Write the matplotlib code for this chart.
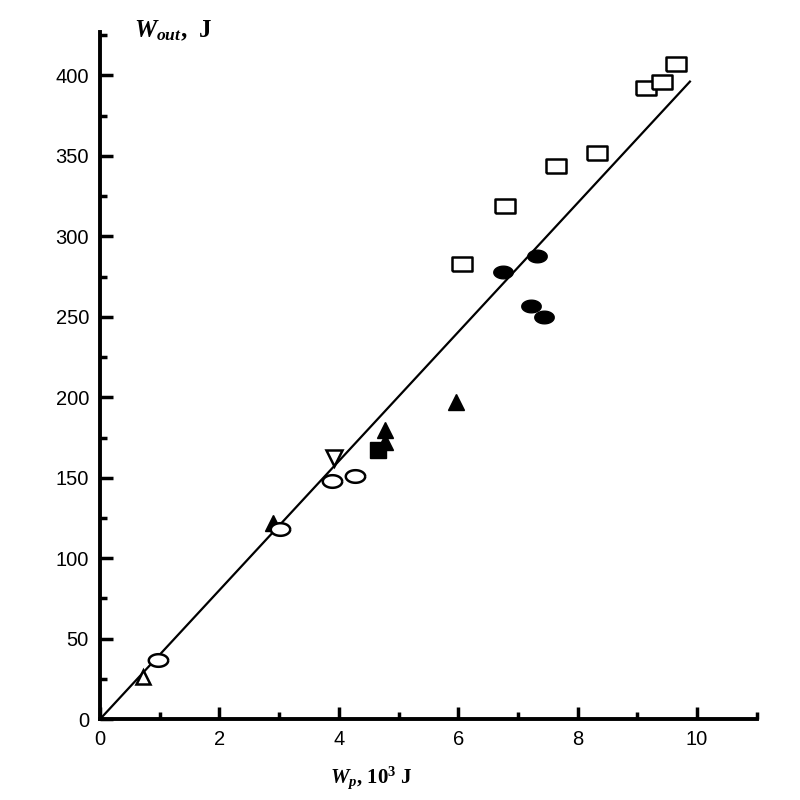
import numpy as np
import matplotlib.pyplot as plt
from matplotlib.ticker import MultipleLocator

plt.rcParams['font.family'] = ['Liberation Sans', 'DejaVu Sans']
plt.rcParams['mathtext.fontset'] = 'custom'
plt.rcParams['mathtext.it'] = 'Liberation Serif:italic:bold'
plt.rcParams['mathtext.rm'] = 'Liberation Serif:bold'

# data (x in 10^3 J, y in J)
sq_open_x = [6.06, 6.78, 7.64, 8.33, 9.15, 9.41, 9.65]
sq_open_y = [283, 319, 344, 352, 392, 396, 407]

circ_fill_x = [6.75, 7.32, 7.22, 7.44]
circ_fill_y = [278, 288, 257, 250]

tri_fill_x = [5.96, 4.77, 4.77, 2.90]
tri_fill_y = [197, 180, 172, 122]

sq_fill_x = [4.66]
sq_fill_y = [167]

tri_down_x = [3.92]
tri_down_y = [162]

tri_open_x = [0.72]
tri_open_y = [26]

circ_open_x = [3.02, 3.89, 4.27, 0.97]
circ_open_y = [118, 148, 151, 37]

fit_x = [0.0, 9.88]
fit_slope = 40.1

# wide markers (rectangles / ellipses like the original)
rect = [(-1, -0.68), (1, -0.68), (1, 0.68), (-1, 0.68), (-1, -0.68)]
t = np.linspace(0, 2 * np.pi, 40)
ellipse = list(zip(np.cos(t), 0.65 * np.sin(t)))

fig = plt.figure(figsize=(8, 8), dpi=100)
ax = fig.add_axes([0.125, 0.101, 0.821, 0.859])

ax.plot(fit_x, [fit_slope * v for v in fit_x], color='black', lw=1.6)

ax.plot(sq_open_x, sq_open_y, ls='none', marker=rect, ms=14, mfc='white', mec='black', mew=1.8)
ax.plot(circ_fill_x, circ_fill_y, ls='none', marker=ellipse, ms=14, mfc='black', mec='black')
ax.plot(tri_fill_x, tri_fill_y, ls='none', marker='^', ms=12, mfc='black', mec='black')
ax.plot(sq_fill_x, sq_fill_y, ls='none', marker='s', ms=11, mfc='black', mec='black')
ax.plot(tri_down_x, tri_down_y, ls='none', marker='v', ms=12, mfc='white', mec='black', mew=1.8)
ax.plot(tri_open_x, tri_open_y, ls='none', marker='^', ms=10, mfc='white', mec='black', mew=1.8)
ax.plot(circ_open_x, circ_open_y, ls='none', marker=ellipse, ms=14, mfc='white', mec='black', mew=1.8)

ax.set_xlim(0, 11)
ax.set_ylim(0, 427)
ax.xaxis.set_major_locator(MultipleLocator(2))
ax.xaxis.set_minor_locator(MultipleLocator(1))
ax.yaxis.set_major_locator(MultipleLocator(50))
ax.yaxis.set_minor_locator(MultipleLocator(25))

for s in ['top', 'right']:
    ax.spines[s].set_visible(False)
for s in ['left', 'bottom']:
    ax.spines[s].set_linewidth(2.8)

ax.tick_params(which='major', direction='in', length=9, width=2.5, labelsize=14.5, pad=8)
ax.tick_params(which='minor', direction='in', length=5, width=2.5)

fig.text(0.168, 0.953, r'$W_{out}$,  J', fontsize=18, family='Liberation Serif', fontweight='bold')
fig.text(0.412, 0.022, r'$W_p$, 10$^3$ J', fontsize=15, family='Liberation Serif', fontweight='bold')

fig.savefig('out.png', dpi=100)
